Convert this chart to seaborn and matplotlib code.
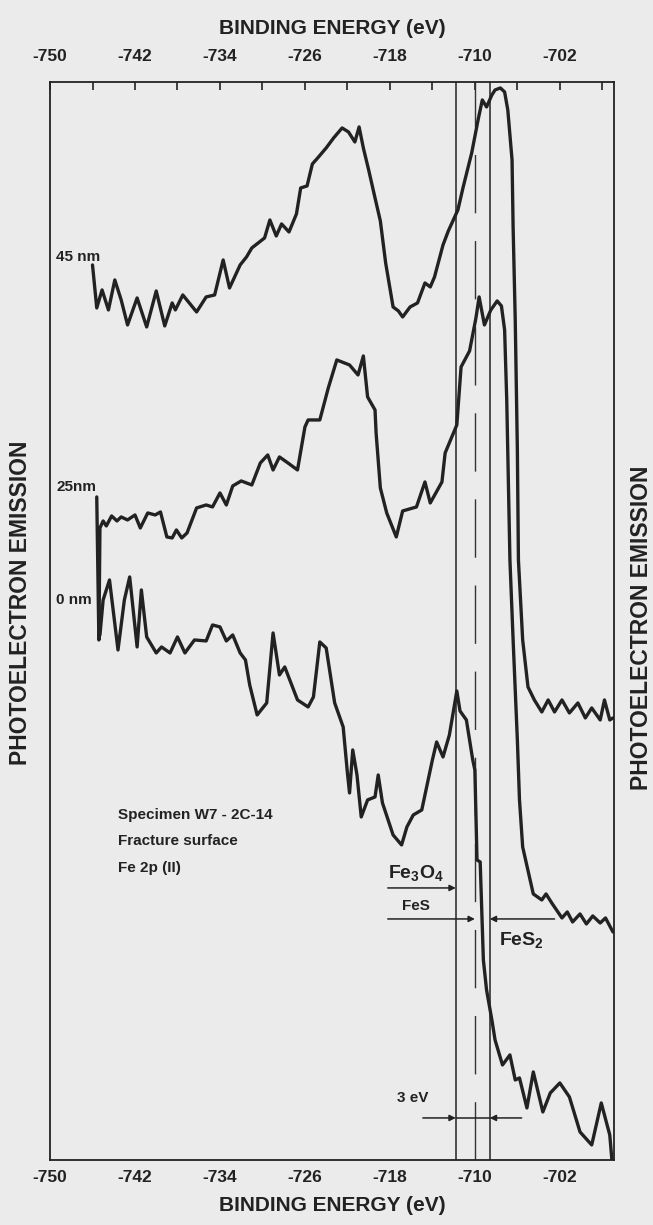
import numpy as np
import pandas as pd
import matplotlib
matplotlib.use("Agg")
import matplotlib.pyplot as plt
import seaborn as sns

# ---------------- data (binding energy in eV, intensity in arbitrary units) -------------
energy_45nm = [-746.0, -745.6, -745.1, -744.5, -743.9, -743.3, -742.7, -741.8, -740.9, -740.0,
               -739.2, -738.5, -738.2, -737.5, -736.2, -735.3, -734.5, -733.7, -733.1, -732.1,
               -731.5, -731.0, -730.4, -729.8, -729.3, -728.7, -728.2, -727.5, -726.8, -726.4,
               -725.8, -725.3, -724.8, -724.0, -723.3, -722.5, -721.9, -721.3, -720.9, -720.5,
               -720.0, -719.4, -718.9, -718.4, -717.7, -717.2, -716.8, -716.1, -715.4, -714.7,
               -714.2, -713.8, -713.0, -712.5, -711.6, -711.1, -710.3, -709.7, -709.3, -708.9,
               -708.4, -708.1, -707.6, -707.2, -706.9, -706.5, -706.4, -706.2, -706.0, -705.9,
               -705.5, -705.0, -704.4, -703.7, -703.1, -702.5, -701.8, -701.1, -700.3, -699.6,
               -699.0, -698.2, -697.8, -697.3, -697.0]
intensity_45nm = [89.5, 85.2, 87.0, 85.0, 88.0, 86.0, 83.5, 86.2, 83.3, 86.9,
                  83.4, 85.7, 85.0, 86.5, 84.8, 86.3, 86.5, 90.0, 87.2, 89.5,
                  90.3, 91.2, 91.7, 92.2, 94.0, 92.4, 93.6, 92.8, 94.6, 97.2,
                  97.4, 99.6, 100.2, 101.2, 102.2, 103.2, 102.8, 101.8, 103.3, 101.2,
                  99.0, 96.2, 93.9, 89.7, 85.3, 84.9, 84.3, 85.3, 85.7, 87.7,
                  87.3, 88.3, 91.5, 92.9, 95.0, 97.3, 100.7, 104.0, 106.0, 105.3,
                  106.5, 107.0, 107.2, 106.8, 105.0, 100.0, 93.3, 84.0, 71.0, 60.0,
                  52.0, 47.3, 46.0, 44.8, 46.0, 44.8, 46.0, 44.7, 45.7, 44.2,
                  45.2, 44.0, 46.0, 44.0, 44.2]

energy_25nm = [-745.6, -745.4, -745.3, -745.0, -744.7, -744.2, -743.7, -743.3, -742.7, -742.0,
               -741.5, -740.8, -740.1, -739.6, -739.0, -738.5, -738.1, -737.6, -737.1, -736.2,
               -735.3, -734.7, -734.0, -733.4, -732.8, -732.0, -731.0, -730.2, -729.5, -729.0,
               -728.4, -727.6, -726.7, -726.0, -725.7, -724.6, -723.8, -723.0, -721.8, -721.0,
               -720.5, -720.1, -719.4, -719.3, -718.9, -718.3, -717.4, -716.8, -715.5, -714.7,
               -714.2, -713.1, -712.8, -711.7, -711.3, -710.5, -709.9, -709.6, -709.1, -708.5,
               -707.9, -707.5, -707.2, -707.0, -706.7, -706.4, -706.0, -705.8, -705.5, -704.5,
               -703.7, -703.3, -702.7, -701.8, -701.3, -700.8, -700.1, -699.5, -698.9, -698.2,
               -697.7, -697.0]
intensity_25nm = [66.3, 52.0, 63.2, 63.9, 63.4, 64.4, 63.9, 64.3, 64.0, 64.5,
                  63.2, 64.7, 64.5, 64.8, 62.3, 62.2, 63.0, 62.2, 62.7, 65.2,
                  65.5, 65.3, 66.7, 65.5, 67.4, 67.9, 67.5, 69.7, 70.5, 69.0,
                  70.3, 69.7, 69.0, 73.3, 74.0, 74.0, 77.2, 80.0, 79.5, 78.5,
                  80.4, 76.3, 75.0, 72.7, 67.2, 64.7, 62.3, 64.9, 65.3, 67.8,
                  65.7, 67.8, 70.7, 73.5, 79.3, 80.9, 84.2, 86.3, 83.5, 85.0,
                  85.9, 85.4, 83.0, 76.0, 60.0, 52.0, 42.0, 36.0, 31.3, 26.6,
                  26.0, 26.6, 25.6, 24.2, 24.8, 23.8, 24.6, 23.6, 24.4, 23.7,
                  24.2, 22.8]

energy_0nm = [-745.3, -745.0, -744.4, -743.6, -743.0, -742.5, -741.8, -741.4, -740.9, -740.0,
              -739.5, -738.7, -738.0, -737.3, -736.4, -735.3, -734.7, -734.0, -733.4, -732.8,
              -732.1, -731.6, -731.2, -730.5, -729.6, -729.0, -728.4, -727.9, -726.7, -725.7,
              -725.2, -724.6, -724.0, -723.2, -722.4, -722.0, -721.8, -721.5, -721.1, -720.7,
              -720.1, -719.4, -719.1, -718.7, -717.7, -716.9, -716.4, -715.8, -715.0, -714.0,
              -713.6, -713.0, -712.4, -711.7, -711.4, -710.8, -710.2, -710.0, -709.8, -709.5,
              -709.2, -708.9, -708.4, -708.1, -707.4, -706.7, -706.2, -705.8, -705.1, -704.5,
              -703.6, -702.9, -702.0, -701.1, -700.1, -699.0, -698.1, -697.3, -697.1]
intensity_0nm = [52.5, 56.0, 58.0, 51.0, 56.0, 58.3, 51.3, 57.0, 52.3, 50.7,
                 51.3, 50.7, 52.3, 50.7, 52.0, 51.9, 53.5, 53.3, 51.9, 52.5,
                 50.7, 50.0, 47.5, 44.5, 45.7, 52.7, 48.5, 49.3, 46.0, 45.3,
                 46.3, 51.8, 51.2, 45.7, 43.3, 38.7, 36.7, 41.0, 38.5, 34.3,
                 36.0, 36.3, 38.5, 35.7, 32.5, 31.5, 33.3, 34.5, 35.0, 40.0,
                 41.8, 40.3, 42.5, 46.9, 44.9, 44.0, 40.0, 39.0, 30.0, 29.8,
                 20.0, 17.0, 14.0, 12.0, 9.5, 10.5, 8.0, 8.2, 5.2, 8.8,
                 4.8, 6.7, 7.7, 6.3, 2.8, 1.5, 5.7, 2.5, 0.0]

depth_labels = ["45 nm", "25nm", "0 nm"]
depth_label_energy = [-749.4, -749.4, -749.4]
depth_label_intensity = [90.3, 67.3, 56.0]

major_ticks = [-750, -742, -734, -726, -718, -710, -702]
minor_ticks = [-746, -738, -730, -722, -714, -706, -698]

ref_solid = [-711.8, -708.6]
ref_dashed = [-710.0]

specimen_lines = ["Specimen W7 - 2C-14", "Fracture surface", "Fe 2p (II)"]

# ---------------- figure -----------------------------------------------------------------
sns.set_theme(style="white")
plt.rcParams["font.family"] = ["Liberation Sans", "DejaVu Sans"]
plt.rcParams["mathtext.fontset"] = "custom"
plt.rcParams["mathtext.rm"] = "Liberation Sans:bold"
plt.rcParams["mathtext.bf"] = "Liberation Sans:bold"
plt.rcParams["mathtext.it"] = "Liberation Sans:bold"
ink = "#222222"
paper = "#ebebeb"

df = pd.concat([
    pd.DataFrame({"energy": energy_45nm, "intensity": intensity_45nm, "depth": "45 nm"}),
    pd.DataFrame({"energy": energy_25nm, "intensity": intensity_25nm, "depth": "25 nm"}),
    pd.DataFrame({"energy": energy_0nm, "intensity": intensity_0nm, "depth": "0 nm"}),
], ignore_index=True)

fig = plt.figure(figsize=(6.53, 12.25), dpi=100, facecolor=paper)
ax = fig.add_axes([0.0766, 0.0531, 0.8637, 0.88])
ax.set_facecolor(paper)

sns.lineplot(data=df, x="energy", y="intensity", hue="depth",
             palette={"45 nm": ink, "25 nm": ink, "0 nm": ink},
             estimator=None, sort=False, legend=False, lw=2.4, ax=ax)
ax.set_ylabel("")

for e in ref_solid:
    ax.axvline(e, color="#333333", lw=1.2, zorder=1)
for e in ref_dashed:
    ax.axvline(e, color="#333333", lw=1.0, dashes=(42, 20), zorder=1)

ax.set_xlim(-750, -696.9)
ax.set_ylim(0, 107.8)

tfont = dict(fontsize=12.5, fontweight="bold", color=ink)
ax.set_xticks(major_ticks)
ax.set_xticklabels([str(t) for t in major_ticks], **tfont)
ax.set_xticks(minor_ticks, minor=True)
ax.set_yticks([])
ax.tick_params(axis="x", which="both", direction="in", length=5.5, width=1.2,
               color=ink, pad=7)
ax.set_xlabel("BINDING ENERGY (eV)", fontsize=15, fontweight="bold", color=ink, labelpad=8)

top = ax.secondary_xaxis("top")
top.set_xticks(major_ticks)
top.set_xticklabels([str(t) for t in major_ticks], **tfont)
top.set_xticks(minor_ticks, minor=True)
top.tick_params(axis="x", which="both", direction="in", length=5.5, width=1.2,
                color=ink, pad=13)
top.set_xlabel("BINDING ENERGY (eV)", fontsize=15, fontweight="bold", color=ink, labelpad=11)
top.spines["top"].set_visible(False)

fig.text(21 / 653, 1 - 603 / 1225, "PHOTOELECTRON EMISSION", rotation=90,
         ha="center", va="center", fontsize=16.5, fontweight="bold", color=ink)
fig.text(641 / 653, 1 - 628 / 1225, "PHOTOELECTRON EMISSION", rotation=90,
         ha="center", va="center", fontsize=16.5, fontweight="bold", color=ink)

for s in ax.spines.values():
    s.set_color(ink)
    s.set_linewidth(1.3)

lab = dict(fontsize=11, fontweight="bold", color=ink, va="center", ha="left")
for txt, ex, iy in zip(depth_labels, depth_label_energy, depth_label_intensity):
    ax.text(ex, iy, txt, **lab)

for i, line in enumerate(specimen_lines):
    ax.text(-743.6, 34.5 - 2.65 * i, line, **lab)

ax.text(-718.2, 28.7, "Fe$_{3}$O$_{4}$", fontsize=14, fontweight="bold", color=ink,
        va="center", ha="left")
ax.text(-716.9, 25.4, "FeS", **lab)
ax.text(-707.7, 22.0, "FeS$_{2}$", fontsize=14, fontweight="bold", color=ink,
        va="center", ha="left")
ax.text(-717.3, 6.2, "3 eV", **lab)

arr = dict(arrowstyle="-|>", lw=1.1, color=ink, mutation_scale=9, shrinkA=0, shrinkB=0)
ax.annotate("", xy=(ref_solid[0], 27.2), xytext=(-718.2, 27.2), arrowprops=arr)
ax.annotate("", xy=(ref_dashed[0], 24.1), xytext=(-718.2, 24.1), arrowprops=arr)
ax.annotate("", xy=(ref_solid[1], 24.1), xytext=(-702.5, 24.1), arrowprops=arr)
ax.plot([ref_solid[0], ref_solid[1]], [4.2, 4.2], color=ink, lw=1.1)
ax.annotate("", xy=(ref_solid[0], 4.2), xytext=(-714.9, 4.2), arrowprops=arr)
ax.annotate("", xy=(ref_solid[1], 4.2), xytext=(-705.6, 4.2), arrowprops=arr)

fig.savefig("out.png", dpi=100, facecolor=paper)
